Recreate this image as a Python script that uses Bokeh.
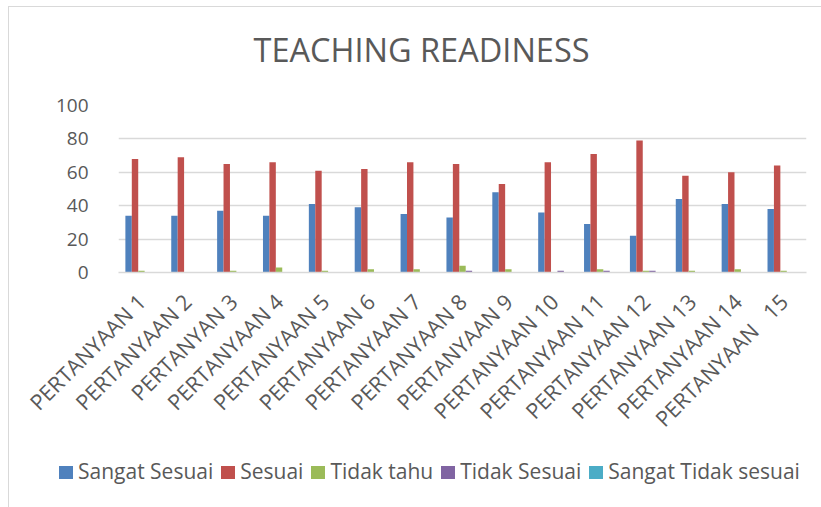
from bokeh.plotting import figure
from bokeh.models import ColumnDataSource, FixedTicker, Range1d, Title, Div
from bokeh.layouts import column
from bokeh.transform import dodge
from bokeh.embed import file_html
from bokeh.resources import INLINE
import math

categories = ["PERTANYAAN 1", "PERTANYAAN 2", "PERTANYAN 3", "PERTANYAAN 4", "PERTANYAAN 5",
              "PERTANYAAN 6", "PERTANYAAN 7", "PERTANYAAN 8", "PERTANYAAN 9", "PERTANYAAN 10",
              "PERTANYAAN 11", "PERTANYAAN 12", "PERTANYAAN 13", "PERTANYAAN 14", "PERTANYAAN\u00a0\u00a0\u00a015"]
sangat_sesuai = [34, 34, 37, 34, 41, 39, 35, 33, 48, 36, 29, 22, 44, 41, 38]
sesuai = [68, 69, 65, 66, 61, 62, 66, 65, 53, 66, 71, 79, 58, 60, 64]
tidak_tahu = [1, 0, 1, 3, 1, 2, 2, 4, 2, 0, 2, 1, 1, 2, 1]
tidak_sesuai = [0, 0, 0, 0, 0, 0, 0, 1, 0, 1, 1, 1, 0, 0, 0]
sangat_tidak_sesuai = [0, 0, 0, 0, 0, 0, 0, 0, 0, 0, 0, 0, 0, 0, 0]
series_names = ["Sangat Sesuai", "Sesuai", "Tidak tahu", "Tidak Sesuai", "Sangat Tidak sesuai"]
y_ticks = [0, 20, 40, 60, 80, 100]

colors = ["#4F81BD", "#C0504D", "#9BBB59", "#8064A2", "#4BACC6"]
FONT = "Open Sans"
TXT = "#595959"

source = ColumnDataSource(dict(cat=categories, s0=sangat_sesuai, s1=sesuai, s2=tidak_tahu,
                               s3=tidak_sesuai, s4=sangat_tidak_sesuai))

p = figure(x_range=categories, y_range=Range1d(0, 100), width=811, height=444,
           output_backend="svg", toolbar_location=None,
           min_border_left=109, min_border_right=14, min_border_top=98, min_border_bottom=179)

bw = 0.14
offsets = [-0.28, -0.14, 0.0, 0.14, 0.28]
for i, c in enumerate(colors):
    p.vbar(x=dodge("cat", offsets[i], range=p.x_range), top="s%d" % i, width=bw,
           source=source, fill_color=c, line_color=None)

p.title.text = "TEACHING READINESS"
p.title.text_font = FONT
p.title.text_font_size = "32.5px"
p.title.text_font_style = "normal"
p.title.text_color = TXT
p.title.align = "left"
p.title.offset = 135
p.title.standoff = 20
# spacer between title and plot area
p.add_layout(Title(text=" ", text_font_size="10px", standoff=11), "above")

p.outline_line_color = None
p.xgrid.grid_line_color = None
p.ygrid.grid_line_color = "#D9D9D9"
p.ygrid.grid_line_width = 1.3
p.yaxis.ticker = FixedTicker(ticks=y_ticks)
p.yaxis.axis_line_color = None
p.yaxis.major_tick_line_color = None
p.yaxis.minor_tick_line_color = None
p.yaxis.major_label_text_font = FONT
p.yaxis.major_label_text_font_size = "19px"
p.yaxis.major_label_text_color = TXT
p.yaxis.major_label_standoff = 24

p.xaxis.axis_line_color = "#D9D9D9"
p.xaxis.axis_line_width = 1.3
p.xaxis.major_tick_line_color = None
p.xaxis.minor_tick_line_color = None
p.xaxis.major_label_orientation = math.pi / 4
p.xaxis.major_label_text_font = FONT
p.xaxis.major_label_text_font_size = "21.5px"
p.xaxis.major_label_text_color = TXT
p.xaxis.major_label_standoff = 19

# legend strip below the chart
items_html = "".join(
    '<span style="display:inline-block;width:14px;height:13px;background:%s;'
    'margin-right:5px;vertical-align:0px;"></span>'
    '<span style="margin-right:8px;">%s</span>' % (c, n)
    for c, n in zip(colors, series_names))
legend_div = Div(text=items_html, width=811, height=55,
                 styles={"font-family": "'Open Sans'", "font-size": "21px", "color": TXT,
                         "white-space": "nowrap", "line-height": "28px",
                         "padding-top": "1px", "padding-left": "45px",
                         "box-sizing": "border-box"})

layout = column(p, legend_div, spacing=0)
layout.styles = {"margin-left": "8px", "margin-top": "6px",
                 "border-left": "1px solid #D9D9D9", "border-top": "1px solid #D9D9D9"}

open("out.html", "w").write(file_html(layout, INLINE))
